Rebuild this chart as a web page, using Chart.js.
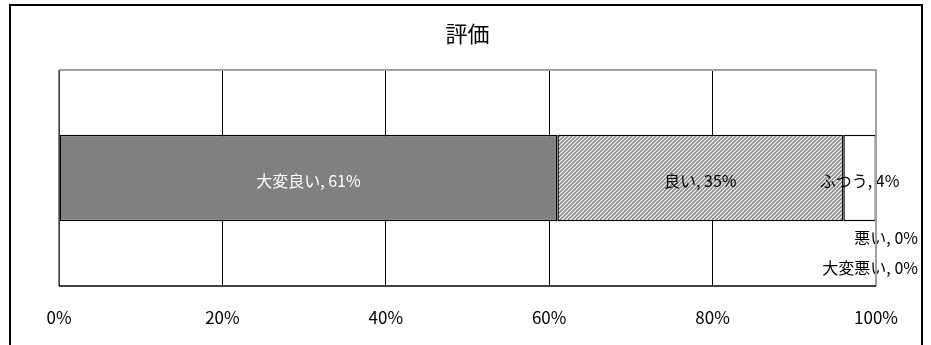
<!DOCTYPE html>
<html lang="ja">
<head>
<meta charset="utf-8">
<script src="https://cdn.jsdelivr.net/npm/chart.js@4.4.1/dist/chart.umd.min.js"></script>
<style>
  html, body { margin: 0; padding: 0; background: #fff; }
  #wrap { width: 931px; height: 345px; position: relative; }
</style>
</head>
<body>
<div id="wrap"><canvas id="c"></canvas></div>
<script>
// 評価の内訳（％）
const categories = ['評価'];
const seriesNames = ['大変良い', '良い', 'ふつう', '悪い', '大変悪い'];
const seriesValues = [61, 35, 4, 0, 0];
const tickValues = [0, 20, 40, 60, 80, 100];

const FONT = '"Noto Sans CJK JP", "Noto Sans", sans-serif';
const NARROW = '"Liberation Sans Narrow", "Noto Sans CJK JP", sans-serif';

// diagonal hatch used for the 「良い」 segment
function hatchPattern() {
  const t = document.createElement('canvas');
  t.width = 4; t.height = 4;
  const g = t.getContext('2d');
  g.fillStyle = '#ffffff';
  g.fillRect(0, 0, 4, 4);
  g.strokeStyle = '#8a8a8a';
  g.lineWidth = 1.6;
  g.beginPath();
  g.moveTo(-1, 5); g.lineTo(5, -1);
  g.moveTo(-1, 1); g.lineTo(1, -1);
  g.moveTo(3, 5); g.lineTo(5, 3);
  g.stroke();
  return g.createPattern(t, 'repeat');
}

const fills = ['#808080', hatchPattern(), '#ffffff', '#ffffff', '#ffffff'];

const datasets = seriesNames.map((name, i) => ({
  label: name,
  data: [seriesValues[i]],
  backgroundColor: fills[i],
  borderColor: '#000000',
  borderWidth: 1.5,
  borderSkipped: false,
  barPercentage: 0.4,
  categoryPercentage: 1.0
}));

// outer frame and plot-area edges
const framePlugin = {
  id: 'frame',
  beforeDraw(chart) {
    const ctx = chart.ctx;
    ctx.save();
    ctx.fillStyle = '#ffffff';
    ctx.fillRect(0, 0, chart.width, chart.height);
    ctx.strokeStyle = '#000000';
    ctx.lineWidth = 2;
    ctx.beginPath();
    ctx.moveTo(10, chart.height + 5);
    ctx.lineTo(10, 5);
    ctx.lineTo(922, 5);
    ctx.lineTo(922, chart.height + 5);
    ctx.stroke();
    ctx.restore();
  },
  afterDraw(chart) {
    const { left, right, top, bottom } = chart.chartArea;
    const ctx = chart.ctx;
    ctx.save();
    ctx.strokeStyle = '#a0a0a0';
    ctx.lineWidth = 2;
    ctx.beginPath();
    ctx.moveTo(left, top);
    ctx.lineTo(right, top);
    ctx.lineTo(right, bottom);
    ctx.stroke();
    ctx.strokeStyle = '#595959';
    ctx.lineWidth = 1.5;
    ctx.beginPath();
    ctx.moveTo(left, top);
    ctx.lineTo(left, bottom);
    ctx.stroke();
    ctx.strokeStyle = '#000000';
    ctx.beginPath();
    ctx.moveTo(left, bottom);
    ctx.lineTo(right, bottom);
    ctx.stroke();
    ctx.restore();
  }
};

// "系列名, 値%" labels on each segment
const labelPlugin = {
  id: 'segLabels',
  afterDatasetsDraw(chart) {
    const ctx = chart.ctx;
    ctx.save();
    ctx.font = '16px ' + FONT;
    ctx.textBaseline = 'middle';
    let zeroIndex = 0;
    chart.data.datasets.forEach((ds, i) => {
      const el = chart.getDatasetMeta(i).data[0];
      const v = ds.data[0];
      const text = ds.label + ', ' + v + '%';
      if (v > 0) {
        ctx.fillStyle = i === 0 ? '#ffffff' : '#000000';
        ctx.textAlign = 'center';
        ctx.fillText(text, (el.x + el.base) / 2, el.y + 3);
      } else {
        ctx.fillStyle = '#000000';
        ctx.textAlign = 'right';
        ctx.fillText(text, el.x + 42, el.y + 60 + 30 * zeroIndex);
        zeroIndex++;
      }
    });
    ctx.restore();
  }
};

new Chart(document.getElementById('c'), {
  type: 'bar',
  data: { labels: categories, datasets },
  options: {
    indexAxis: 'y',
    responsive: true,
    maintainAspectRatio: false,
    animation: false,
    layout: { padding: { left: 59, right: 55, top: 0, bottom: 0 } },
    plugins: {
      legend: { display: false },
      tooltip: { enabled: false },
      title: {
        display: true,
        text: '評価',
        color: '#000000',
        font: { family: FONT, size: 22, weight: 'normal', lineHeight: 1.2 },
        padding: { top: 20, bottom: 23.6 }
      }
    },
    scales: {
      x: {
        stacked: true,
        min: 0,
        max: 100,
        afterBuildTicks(axis) {
          axis.ticks = tickValues.map(v => ({ value: v }));
        },
        afterFit(axis) { axis.height = 59; },
        grid: { color: '#000000', lineWidth: 1, drawTicks: false },
        border: { display: false },
        ticks: {
          padding: 21,
          color: '#000000',
          font: { family: NARROW, size: 17 },
          callback: v => v + '%'
        }
      },
      y: {
        stacked: true,
        display: false
      }
    }
  },
  plugins: [framePlugin, labelPlugin]
});
</script>
</body>
</html>
